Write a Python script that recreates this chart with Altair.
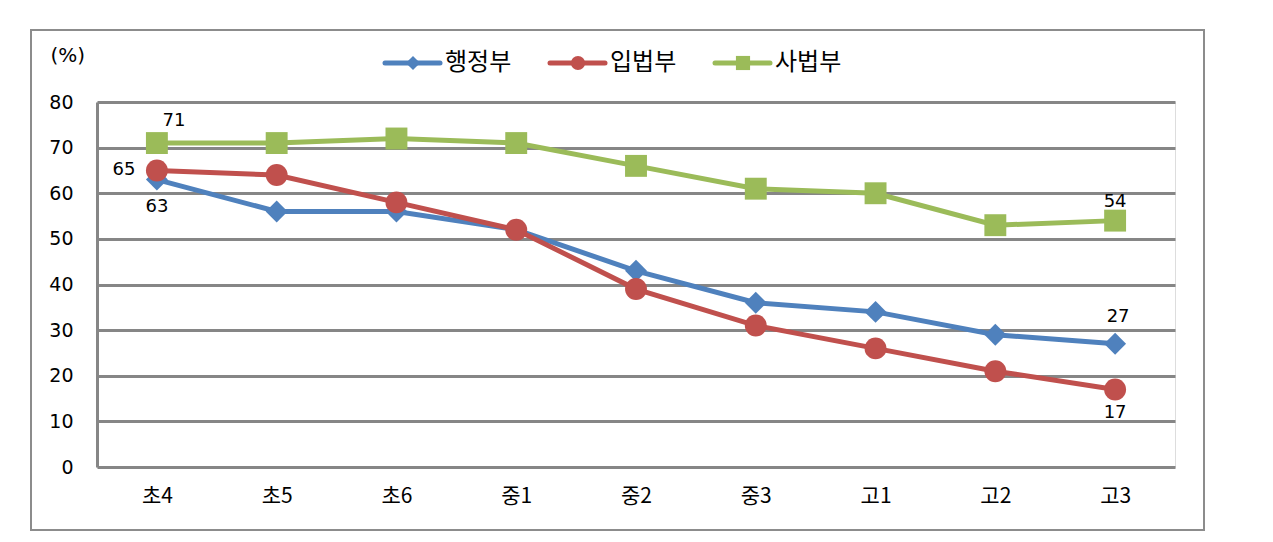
import altair as alt
import pandas as pd

categories = ["초4", "초5", "초6", "중1", "중2", "중3", "고1", "고2", "고3"]
series_names = ["행정부", "입법부", "사법부"]
admin = [63, 56, 56, 52, 43, 36, 34, 29, 27]
legis = [65, 64, 58, 52, 39, 31, 26, 21, 17]
judic = [71, 71, 72, 71, 66, 61, 60, 53, 54]
colors = ["#4F81BD", "#C0504D", "#9BBB59"]
shapes = ["diamond", "circle", "square"]

rows = []
for name, vals in zip(series_names, [admin, legis, judic]):
    for c, v in zip(categories, vals):
        rows.append({"cat": c, "series": name, "value": v})
df = pd.DataFrame(rows)

KFONT = "Noto Sans CJK KR"
NFONT = "DejaVu Sans"

x = alt.X("cat:N", sort=categories, title=None,
          scale=alt.Scale(paddingInner=0, paddingOuter=0.0),
          axis=alt.Axis(labelAngle=0, labelFont=KFONT, labelFontSize=21,
                        labelColor="#000", labelPadding=18, ticks=False,
                        domain=False, grid=False))
y = alt.Y("value:Q", title="(%)",
          scale=alt.Scale(domain=[0, 80], nice=False),
          axis=alt.Axis(values=list(range(0, 81, 10)), labelFont=NFONT,
                        labelFontSize=19, labelColor="#000", labelPadding=24,
                        ticks=False, domain=True, domainColor="#868686",
                        domainWidth=3, grid=True, gridColor="#868686",
                        gridWidth=3, titleAngle=0, titleAlign="left",
                        titleBaseline="middle", titleX=-47, titleY=-47,
                        titleFont=NFONT, titleFontSize=20,
                        titleFontWeight="normal", titleColor="#000"))
cscale = alt.Scale(domain=series_names, range=colors)
color = alt.Color("series:N", scale=cscale, legend=None)

base = alt.Chart(df)
lines = base.mark_line(strokeWidth=5).encode(x=x, y=y, color=color)
points = base.mark_point(filled=True, opacity=1, size=480).encode(
    x=x, y=y, color=color,
    shape=alt.Shape("series:N", scale=alt.Scale(domain=series_names, range=shapes), legend=None))

label_specs = [
    ("사법부", "초4", 17, -22),
    ("입법부", "초4", -33, 0),
    ("행정부", "초4", 0, 27),
    ("사법부", "고3", 0, -19),
    ("행정부", "고3", 3, -27),
    ("입법부", "고3", 0, 24),
]
texts = []
for s, c, dx, dy in label_specs:
    texts.append(base.transform_filter(
        (alt.datum.series == s) & (alt.datum.cat == c)
    ).mark_text(dx=dx, dy=dy, font=NFONT, fontSize=18, color="#000").encode(
        x=x, y=y, text="value:Q"))

one = pd.DataFrame({"a": [0]})
frame = alt.Chart(one).mark_rect(
    filled=False, stroke="#8c8c8c", strokeWidth=2, clip=False).encode(
    x=alt.value(-66), x2=alt.value(1107), y=alt.value(-72), y2=alt.value(428))

# manual legend
legend_layers = []
leg_x0 = [288, 453, 618]
LY = -39
for i, name in enumerate(series_names):
    x0 = leg_x0[i]
    legend_layers.append(alt.Chart(one).mark_rule(
        color=colors[i], strokeWidth=5, strokeCap="round").encode(
        x=alt.value(x0), x2=alt.value(x0 + 55), y=alt.value(LY)))
    legend_layers.append(alt.Chart(one).mark_point(
        shape=shapes[i], filled=True, opacity=1, color=colors[i], size=200).encode(
        x=alt.value(x0 + 28), y=alt.value(LY)))
    legend_layers.append(alt.Chart(pd.DataFrame({"t": [name]})).mark_text(
        align="left", baseline="middle", font=KFONT, fontSize=24, color="#000").encode(
        x=alt.value(x0 + 60), y=alt.value(LY), text="t:N"))

chart = alt.layer(frame, lines, points, *texts, *legend_layers).properties(
    width=1078, height=365,
    autosize=alt.AutoSizeParams(type="none"),
    padding={"left": 89, "top": 94, "right": 90, "bottom": 67},
).configure_view(stroke=None).configure(background="white")

chart.save("out.html", embed_options={"renderer": "svg", "actions": False})
